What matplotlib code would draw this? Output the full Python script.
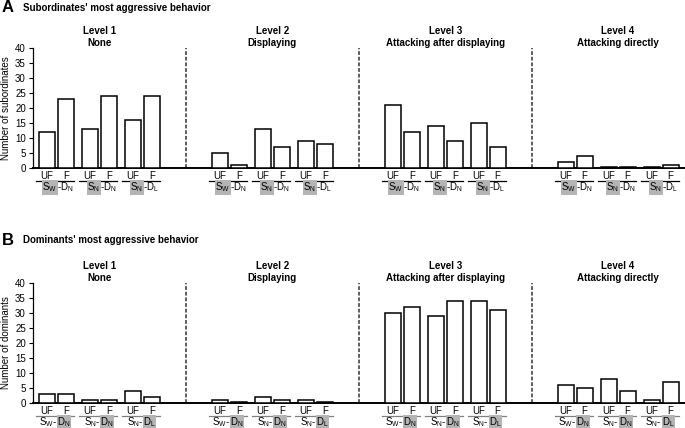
import numpy as np
import matplotlib.pyplot as plt

plt.rcParams['font.family'] = 'Liberation Sans'
plt.rcParams['mathtext.fontset'] = 'custom'
plt.rcParams['mathtext.rm'] = 'Liberation Sans'
plt.rcParams['mathtext.it'] = 'Liberation Sans:italic'
plt.rcParams['mathtext.bf'] = 'Liberation Sans:bold'

levels = ['Level 1\nNone', 'Level 2\nDisplaying',
          'Level 3\nAttacking after displaying', 'Level 4\nAttacking directly']
conditions = ['UF', 'F']
pair_s = [r'$\mathregular{S_W}$', r'$\mathregular{S_N}$', r'$\mathregular{S_N}$']
pair_d = [r'$\mathregular{D_N}$', r'$\mathregular{D_N}$', r'$\mathregular{D_L}$']

# values per level, per pair (SW-DN, SN-DN, SN-DL)
sub_uf = [[12, 13, 16], [5, 13, 9], [21, 14, 15], [2, 0.3, 0.3]]
sub_f = [[23, 24, 24], [1, 7, 8], [12, 9, 7], [4, 0.3, 1]]
dom_uf = [[3, 1, 4], [1, 2, 1], [30, 29, 34], [6, 8, 1]]
dom_f = [[3, 1, 2], [0.3, 1, 0.3], [32, 34, 31], [5, 4, 7]]

LEVEL_STEP = 9.1
GROUP_STEP = 2.26
BAR_STEP = 1.0
WIDTH = 0.84
HL = '#b4b4b4'


def panel(ax, uf, f, ylabel, highlight_subject, line_color):
    xs, labels = [], []
    for L in range(4):
        for g in range(3):
            x0 = L * LEVEL_STEP + g * GROUP_STEP
            for c, vals in enumerate([uf, f]):
                x = x0 + c * BAR_STEP
                ax.bar(x, vals[L][g], width=WIDTH, color='white',
                       edgecolor='black', linewidth=1.1, zorder=3)
                xs.append(x)
                labels.append(conditions[c])
            # underline + pair label
            ax.plot([x0 - 0.55, x0 + 1.45], [-4.3, -4.3], color=line_color,
                    lw=0.9, clip_on=False)
            cx = x0 + 0.55
            if highlight_subject:
                t1 = ax.text(cx, -6.4, pair_s[g], ha='right', va='center',
                             fontsize=7, bbox=dict(fc=HL, ec='none', pad=0.4))
                ax.annotate('-' + pair_d[g], xy=(1, 0.5), xycoords=t1,
                            ha='left', va='center', fontsize=7)
            else:
                t1 = ax.text(cx, -6.3, pair_s[g] + '-', ha='right', va='center',
                             fontsize=7)
                ax.annotate(pair_d[g], xy=(1, 0.5), xycoords=t1,
                            ha='left', va='center', fontsize=7,
                            bbox=dict(fc=HL, ec='none', pad=0.3))
        # level title
        ax.text(L * LEVEL_STEP + 2.76, 40.0, levels[L], ha='center', va='bottom',
                fontsize=7, fontweight='bold', linespacing=1.3)
        if L < 3:
            xd = L * LEVEL_STEP + 7.31
            ax.plot([xd, xd], [0, 40], color='#333333', ls=(0, (2.5, 1.2)),
                    lw=1.1, zorder=2)

    ax.set_xticks(xs)
    ax.set_xticklabels(labels, fontsize=7)
    ax.tick_params(axis='x', length=0, pad=2)
    ax.set_xlim(-0.74, 33.58)
    ax.set_ylim(0, 40)
    ax.set_yticks(np.arange(0, 41, 5))
    ax.tick_params(axis='y', labelsize=7, length=3, width=0.8, pad=2)
    ax.set_ylabel(ylabel, fontsize=7, labelpad=3)
    ax.spines['top'].set_visible(False)
    ax.spines['right'].set_visible(False)
    ax.spines['left'].set_linewidth(0.9)
    ax.spines['bottom'].set_linewidth(1.4)


fig = plt.figure(figsize=(6.85, 4.28), dpi=100)
axA = fig.add_axes([0.048, 0.6075, 0.952, 0.2805])
axB = fig.add_axes([0.048, 0.0585, 0.952, 0.2804])

panel(axA, sub_uf, sub_f, 'Number of subordinates', True, 'black')
panel(axB, dom_uf, dom_f, 'Number of dominants', False, '#808080')

fig.text(0.003, 0.982, 'A', fontsize=12, fontweight='bold', va='center')
fig.text(0.033, 0.982, "Subordinates' most aggressive behavior", fontsize=7,
         fontweight='bold', va='center')
fig.text(0.003, 0.439, 'B', fontsize=12, fontweight='bold', va='center')
fig.text(0.033, 0.439, "Dominants' most aggressive behavior", fontsize=7,
         fontweight='bold', va='center')

fig.savefig('out.png', dpi=100)
